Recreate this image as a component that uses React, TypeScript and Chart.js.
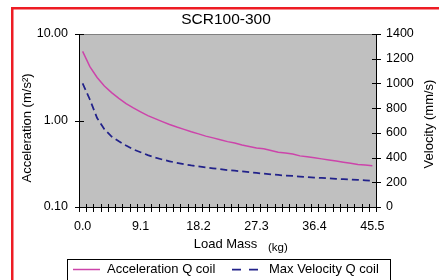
import React, { useEffect, useRef } from 'react';
import { Chart, registerables } from 'chart.js';

Chart.register(...registerables);

// ---- data ----
const chartTitle = 'SCR100-300';
const loadMass = [
  0.0, 1.1, 2.3, 3.4, 4.6, 5.7, 6.8, 8.0, 9.1, 10.2, 11.4, 12.5, 13.7, 14.8, 15.9, 17.1,
  18.2, 19.3, 20.5, 21.6, 22.8, 23.9, 25.0, 26.2, 27.3, 28.4, 29.6, 30.7, 31.9, 33.0, 34.1,
  35.3, 36.4, 37.5, 38.7, 39.8, 41.0, 42.1, 43.2, 44.4, 45.5,
];
const acceleration = [
  6.3, 4.19, 3.14, 2.51, 2.1, 1.8, 1.57, 1.4, 1.26, 1.14, 1.05, 0.97, 0.9, 0.84, 0.79, 0.74,
  0.7, 0.66, 0.63, 0.6, 0.57, 0.55, 0.52, 0.5, 0.48, 0.47, 0.45, 0.43, 0.42, 0.41, 0.39,
  0.38, 0.37, 0.36, 0.35, 0.34, 0.33, 0.32, 0.31, 0.305, 0.3,
];
const velocity = [
  1000, 870, 720, 630, 570, 532, 497, 466, 443, 420, 400, 384, 370, 357, 346, 336, 328, 320,
  313, 306, 299, 294, 288, 282, 276, 270, 264, 259, 255, 251, 246, 242, 238, 235, 232, 228,
  225, 222, 219, 216, 213,
];
const leftTicks = [0.1, 1, 10];
const rightTicks = [0, 200, 400, 600, 800, 1000, 1200, 1400];
const labelEvery = 8;
const seriesNames = ['Acceleration Q coil', 'Max Velocity Q coil'];
const leftAxisTitle = 'Acceleration (m/s²)';
const rightAxisTitle = 'Velocity (mm/s)';
const xAxisTitle = 'Load Mass';
const xAxisUnit = '(kg)';

const FONT = '"Liberation Sans", Arial, sans-serif';

const decor = {
  id: 'decor',
  beforeDraw(chart: any) {
    const { ctx, chartArea: a } = chart;
    ctx.save();
    ctx.fillStyle = '#ffffff';
    ctx.fillRect(0, 0, chart.width, chart.height);
    ctx.fillStyle = '#c0c0c0';
    ctx.fillRect(a.left, a.top, a.right - a.left, a.bottom - a.top);
    ctx.restore();
  },
  afterDraw(chart: any) {
    const { ctx, chartArea: a, scales } = chart;
    const xs = scales.x;
    const yl = scales.y;
    const yr = scales.y1;
    ctx.save();
    // top border of plot
    ctx.strokeStyle = '#808080';
    ctx.lineWidth = 1;
    ctx.beginPath();
    ctx.moveTo(a.left, a.top + 0.5);
    ctx.lineTo(a.right, a.top + 0.5);
    ctx.stroke();
    // axes
    ctx.strokeStyle = '#000000';
    ctx.beginPath();
    ctx.moveTo(a.left + 0.5, a.top);
    ctx.lineTo(a.left + 0.5, a.bottom + 0.5);
    ctx.lineTo(a.right + 0.5, a.bottom + 0.5);
    ctx.moveTo(a.right + 0.5, a.top);
    ctx.lineTo(a.right + 0.5, a.bottom + 0.5);
    ctx.stroke();
    // x ticks (cross) at category boundaries
    const n = loadMass.length;
    ctx.beginPath();
    for (let i = 0; i <= n; i++) {
      let px: number;
      if (i === 0) px = a.left;
      else if (i === n) px = a.right;
      else px = (xs.getPixelForValue(i - 1) + xs.getPixelForValue(i)) / 2;
      px = Math.round(px) + 0.5;
      ctx.moveTo(px, a.bottom - 3);
      ctx.lineTo(px, a.bottom + 5);
    }
    // left ticks
    for (const v of leftTicks) {
      const py = Math.round(yl.getPixelForValue(v)) + 0.5;
      ctx.moveTo(a.left - 4, py);
      ctx.lineTo(a.left + 5, py);
    }
    for (const v of rightTicks) {
      const py = Math.round(yr.getPixelForValue(v)) + 0.5;
      ctx.moveTo(a.right - 4, py);
      ctx.lineTo(a.right + 5, py);
    }
    ctx.stroke();

    // texts
    ctx.fillStyle = '#000000';
    ctx.textBaseline = 'alphabetic';
    ctx.textAlign = 'center';
    ctx.font = `15.5px ${FONT}`;
    ctx.fillText(chartTitle, 226, 24);

    ctx.font = `13px ${FONT}`;
    ctx.fillText(xAxisTitle, 225.5, 247.5);
    ctx.font = `11.5px ${FONT}`;
    ctx.textAlign = 'left';
    ctx.fillText(xAxisUnit, 268, 251);

    ctx.font = `13px ${FONT}`;
    ctx.textAlign = 'center';
    ctx.save();
    ctx.translate(30.5, 128);
    ctx.rotate(-Math.PI / 2);
    ctx.fillText(leftAxisTitle, 0, 0);
    ctx.restore();
    ctx.save();
    ctx.translate(432.5, 124);
    ctx.rotate(-Math.PI / 2);
    ctx.fillText(rightAxisTitle, 0, 0);
    ctx.restore();

    // legend
    ctx.fillStyle = '#ffffff';
    ctx.fillRect(67, 259, 323, 30);
    ctx.strokeStyle = '#000000';
    ctx.lineWidth = 1;
    ctx.strokeRect(67.5, 259.5, 323, 30);
    const ds = chart.data.datasets;
    const items = [
      { x0: 73, x1: 100, tx: 107, dash: [] as number[] },
      { x0: 232, x1: 258, tx: 269, dash: [9, 8] },
    ];
    items.forEach((it, i) => {
      ctx.save();
      ctx.strokeStyle = ds[i].borderColor;
      ctx.lineWidth = ds[i].borderWidth;
      ctx.setLineDash(it.dash);
      ctx.beginPath();
      ctx.moveTo(it.x0, 269.5);
      ctx.lineTo(it.x1, 269.5);
      ctx.stroke();
      ctx.restore();
      ctx.fillStyle = '#000000';
      ctx.font = `13px ${FONT}`;
      ctx.textAlign = 'left';
      ctx.fillText(ds[i].label, it.tx, 273);
    });

    // red frame
    ctx.fillStyle = '#ee1c24';
    ctx.fillRect(11, 7, chart.width - 11, 2.5);
    ctx.fillRect(11, 7, 2.5, chart.height - 7);
    ctx.restore();
  },
};

export default function App() {
  const ref = useRef<HTMLCanvasElement | null>(null);
  useEffect(() => {
    if (!ref.current) return;
    const chart = new Chart(ref.current, {
      type: 'line',
      data: {
        labels: loadMass.map((v) => v.toFixed(1)),
        datasets: [
          {
            label: seriesNames[0],
            data: acceleration,
            yAxisID: 'y',
            borderColor: '#cc44aa',
            borderWidth: 1.5,
            pointRadius: 0,
            tension: 0,
            fill: false,
          },
          {
            label: seriesNames[1],
            data: velocity,
            yAxisID: 'y1',
            borderColor: '#22228a',
            borderWidth: 1.75,
            borderDash: [7, 4],
            pointRadius: 0,
            tension: 0,
            fill: false,
          },
        ],
      },
      options: {
        responsive: false,
        animation: false,
        events: [],
        layout: { padding: { top: 34, left: 0, right: 0, bottom: 0 } },
        plugins: {
          legend: { display: false },
          title: { display: false },
          tooltip: { enabled: false },
        },
        scales: {
          x: {
            type: 'category',
            offset: true,
            grid: { display: false, drawTicks: false },
            border: { display: false },
            ticks: {
              autoSkip: false,
              maxRotation: 0,
              minRotation: 0,
              color: '#000000',
              padding: 12,
              font: { family: FONT, size: 12.5 },
              callback: (_v: any, i: number) => (i % labelEvery === 0 ? loadMass[i].toFixed(1) : ''),
            },
            afterFit: (s: any) => {
              s.height = 73;
            },
          },
          y: {
            type: 'logarithmic',
            position: 'left',
            min: 0.1,
            max: 10,
            grid: { display: false, drawTicks: false },
            border: { display: false },
            afterBuildTicks: (s: any) => {
              s.ticks = leftTicks.map((v) => ({ value: v }));
            },
            ticks: {
              color: '#000000',
              padding: 11,
              font: { family: FONT, size: 12.5 },
              callback: (v: any) => Number(v).toFixed(2),
            },
            afterFit: (s: any) => {
              s.width = 79;
            },
          },
          y1: {
            type: 'linear',
            position: 'right',
            min: 0,
            max: 1400,
            grid: { display: false, drawTicks: false },
            border: { display: false },
            afterBuildTicks: (s: any) => {
              s.ticks = rightTicks.map((v) => ({ value: v }));
            },
            ticks: {
              color: '#000000',
              padding: 10,
              font: { family: FONT, size: 12.5 },
              callback: (v: any) => String(v),
            },
            afterFit: (s: any) => {
              s.width = 63;
            },
          },
        },
      },
      plugins: [decor],
    } as any);
    return () => chart.destroy();
  }, []);
  return (
    <div style={{ position: 'fixed', left: 0, top: 0, width: 439, height: 280, background: '#ffffff' }}>
      <canvas ref={ref} width={439} height={280} style={{ width: 439, height: 280, display: 'block' }} />
    </div>
  );
}
